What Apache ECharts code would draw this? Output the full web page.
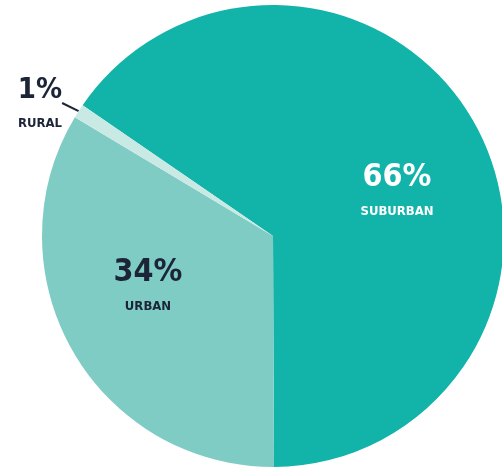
<!DOCTYPE html>
<html>
<head>
<meta charset="utf-8">
<script src="https://cdn.jsdelivr.net/npm/echarts@6/dist/echarts.min.js"></script>
<style>
  html, body { margin: 0; padding: 0; background: #fff; }
  #chart { width: 502px; height: 471px; }
</style>
</head>
<body>
<div id="chart"></div>
<script>
// data
const categories = ["SUBURBAN", "URBAN", "RURAL"];
const shares = [66, 34, 1];
const sliceColors = ["#12b3a9", "#7fccc5", "#c9e9e5"];
const textColors = ["#ffffff", "#1c2438", "#1c2438"];

// where each label sits (center of text block)
const labelPos = [[397, 192], [148, 287], [40, 104]];
const pctSize = [32, 32, 29];
const FONT = "'DejaVu Sans Condensed', 'Roboto Condensed', 'Liberation Sans', sans-serif";

const chart = echarts.init(document.getElementById("chart"), null, { renderer: "canvas" });

const pieData = categories.map((name, i) => ({
  name: name,
  value: shares[i],
  itemStyle: { color: sliceColors[i] },
  label: {
    position: i === 2 ? "outside" : "inside",
    overflow: "none",
    rich: {
      p: { fontFamily: FONT, fontWeight: "bold", fontSize: pctSize[i], lineHeight: 40, color: textColors[i], align: "center" },
      n: { fontFamily: FONT, fontWeight: "bold", fontSize: 13, lineHeight: 28, color: textColors[i], align: "center" }
    }
  },
  labelLine: { show: i === 2, lineStyle: { color: "#1c2438", width: 2 } }
}));

chart.setOption({
  animation: false,
  series: [
    {
      type: "pie",
      center: [273, 236],
      radius: [0, 231],
      startAngle: 145.5,
      clockwise: true,
      data: pieData,
      itemStyle: { borderWidth: 0 },
      label: {
        show: true,
        formatter: function (p) {
          return "{p|" + p.value + "%}\n{n|" + p.name + "}";
        }
      },
      labelLine: { length: 10, length2: 0 },
      labelLayout: function (params) {
        const pos = labelPos[params.dataIndex];
        return { x: pos[0], y: pos[1], align: "center", verticalAlign: "middle" };
      }
    }
  ]
});
</script>
</body>
</html>
